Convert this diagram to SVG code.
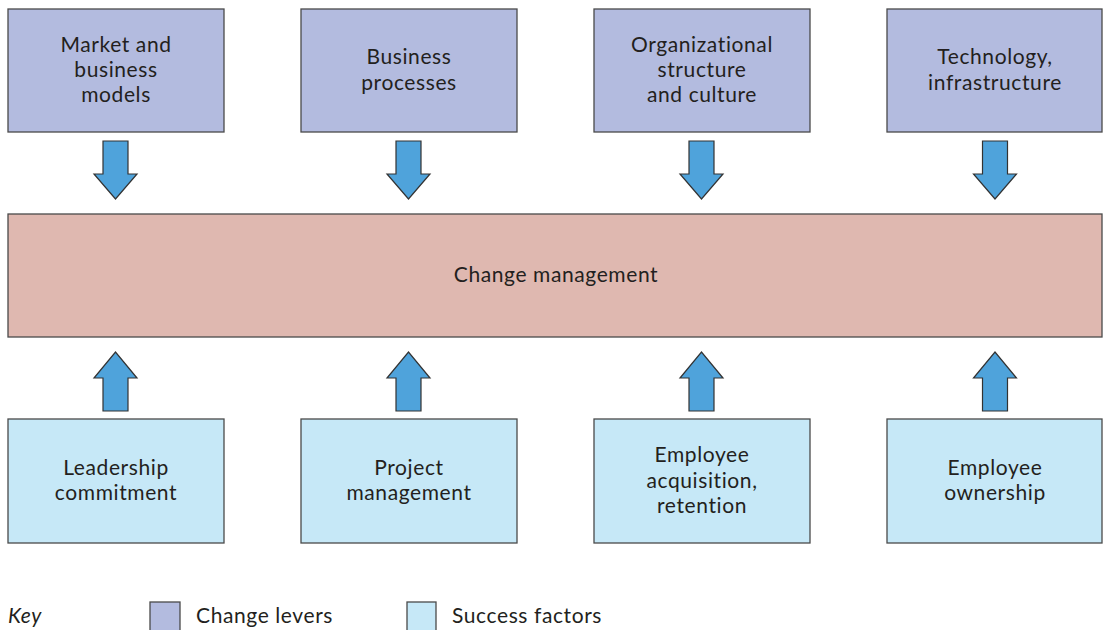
<svg xmlns="http://www.w3.org/2000/svg" width="1103" height="630" viewBox="0 0 1103 630">
<style>
text{font-family:Lato,"Open Sans","Liberation Sans",sans-serif;font-size:21px;letter-spacing:0.6px;fill:#231f20;text-anchor:middle}
.lever{fill:#b3bbdf;stroke:#4a4a4a;stroke-width:1.3}
.factor{fill:#c6e8f7;stroke:#4a4a4a;stroke-width:1.3}
.cm{fill:#dfb8b0;stroke:#4a4a4a;stroke-width:1.3}
.arr{fill:#4fa3db;stroke:#333;stroke-width:1.2;stroke-linejoin:miter}
.lg{text-anchor:start}
</style>
<defs>
<path id="down" d="M-12.5,141 H12.5 V174 H21.5 L0,199 L-21.5,174 H-12.5 Z"/>
<path id="up" d="M-12.5,411 H12.5 V378 H21.5 L0,352 L-21.5,378 H-12.5 Z"/>
</defs>
<rect width="1103" height="630" fill="#fff"/>
<g id="lever1"><rect class="lever" x="8" y="9" width="216" height="123"/><text x="116" y="52">Market and</text><text x="116" y="77">business</text><text x="116" y="102">models</text></g>
<g id="lever2"><rect class="lever" x="301" y="9" width="216" height="123"/><text x="409" y="64">Business</text><text x="409" y="90">processes</text></g>
<g id="lever3"><rect class="lever" x="594" y="9" width="216" height="123"/><text x="702" y="52">Organizational</text><text x="702" y="77">structure</text><text x="702" y="102">and culture</text></g>
<g id="lever4"><rect class="lever" x="887" y="9" width="215" height="123"/><text x="995" y="64">Technology,</text><text x="995" y="90">infrastructure</text></g>
<g id="change"><rect class="cm" x="8" y="214" width="1094" height="123"/><text x="556" y="282">Change management</text></g>
<g id="factor1"><rect class="factor" x="8" y="419" width="216" height="124"/><text x="116" y="475">Leadership</text><text x="116" y="500">commitment</text></g>
<g id="factor2"><rect class="factor" x="301" y="419" width="216" height="124"/><text x="409" y="475">Project</text><text x="409" y="500">management</text></g>
<g id="factor3"><rect class="factor" x="594" y="419" width="216" height="124"/><text x="702" y="462">Employee</text><text x="702" y="488">acquisition,</text><text x="702" y="513">retention</text></g>
<g id="factor4"><rect class="factor" x="887" y="419" width="215" height="124"/><text x="995" y="475">Employee</text><text x="995" y="500">ownership</text></g>
<g id="connectors">
<use href="#down" class="arr" x="115.5"/>
<use href="#down" class="arr" x="408.5"/>
<use href="#down" class="arr" x="701.5"/>
<use href="#down" class="arr" x="995"/>
<use href="#up" class="arr" x="115.5"/>
<use href="#up" class="arr" x="408.5"/>
<use href="#up" class="arr" x="701.5"/>
<use href="#up" class="arr" x="995"/>
</g>
<g id="legend">
<text class="lg" x="8" y="623" font-style="italic">Key</text>
<rect class="lever" x="150" y="602" width="30" height="34"/>
<text class="lg" x="196" y="623">Change levers</text>
<rect class="factor" x="407" y="602" width="29" height="34"/>
<text class="lg" x="452" y="623">Success factors</text>
</g>
</svg>
